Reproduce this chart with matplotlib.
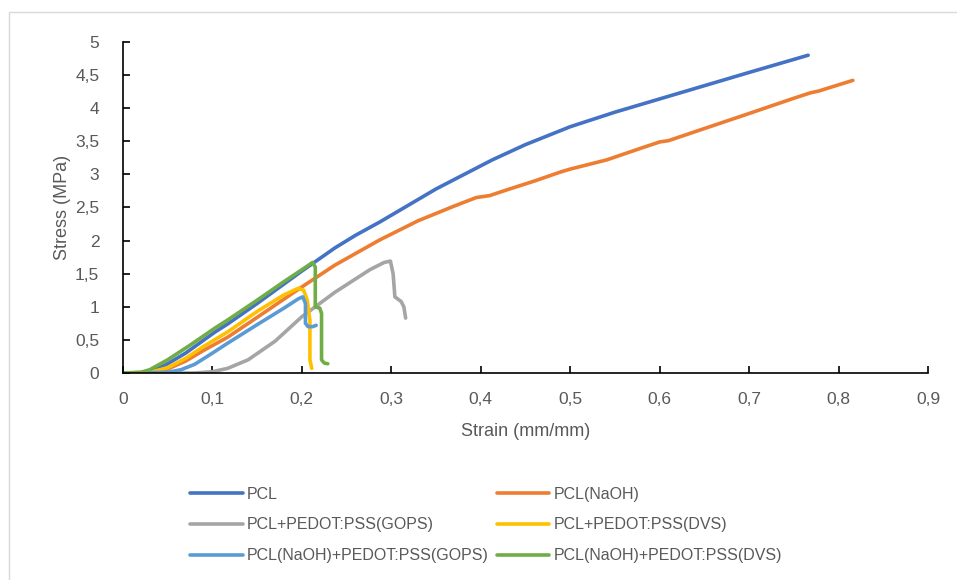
import matplotlib.pyplot as plt
from matplotlib.patches import Rectangle
from matplotlib.ticker import FuncFormatter

plt.rcParams['font.family'] = ['Liberation Sans', 'DejaVu Sans']

labels = ["PCL", "PCL(NaOH)", "PCL+PEDOT:PSS(GOPS)", "PCL+PEDOT:PSS(DVS)",
          "PCL(NaOH)+PEDOT:PSS(GOPS)", "PCL(NaOH)+PEDOT:PSS(DVS)"]
colors = ["#4472C4", "#ED7D31", "#A5A5A5", "#FFC000", "#5B9BD5", "#70AD47"]

# strain (mm/mm) / stress (MPa)
pcl_x = [0, 0.02, 0.035, 0.05, 0.07, 0.103, 0.117, 0.15, 0.2, 0.237, 0.26, 0.287, 0.35,
         0.413, 0.45, 0.5, 0.55, 0.6, 0.645, 0.7, 0.766]
pcl_y = [0, 0.0, 0.04, 0.14, 0.3, 0.62, 0.74, 1.05, 1.54, 1.89, 2.08, 2.28, 2.78,
         3.22, 3.45, 3.72, 3.94, 4.14, 4.32, 4.54, 4.80]

naoh_x = [0, 0.03, 0.05, 0.07, 0.09, 0.117, 0.15, 0.2, 0.237, 0.287, 0.33, 0.37,
          0.395, 0.41, 0.43, 0.46, 0.49, 0.5, 0.541, 0.58, 0.6, 0.61, 0.645, 0.7,
          0.75, 0.768, 0.778, 0.816]
naoh_y = [0, 0.01, 0.06, 0.18, 0.34, 0.54, 0.84, 1.3, 1.63, 2.01, 2.3, 2.52,
          2.65, 2.68, 2.77, 2.9, 3.04, 3.08, 3.22, 3.4, 3.49, 3.51, 3.67, 3.92,
          4.15, 4.23, 4.26, 4.42]

gops_x = [0, 0.05, 0.08, 0.1, 0.117, 0.14, 0.17, 0.2, 0.237, 0.276, 0.292, 0.299,
          0.302, 0.304, 0.311, 0.314, 0.316]
gops_y = [0, 0.0, 0.0, 0.02, 0.07, 0.2, 0.48, 0.85, 1.22, 1.56, 1.67, 1.69,
          1.5, 1.15, 1.08, 1.0, 0.83]

dvs_x = [0, 0.03, 0.05, 0.07, 0.09, 0.117, 0.15, 0.18, 0.196, 0.202, 0.206, 0.209,
         0.209, 0.211]
dvs_y = [0, 0.01, 0.08, 0.22, 0.4, 0.62, 0.93, 1.18, 1.28, 1.25, 1.1, 0.8,
         0.2, 0.07]

naoh_gops_x = [0, 0.05, 0.065, 0.08, 0.1, 0.117, 0.15, 0.18, 0.196, 0.201, 0.204,
               0.204, 0.207, 0.212, 0.216]
naoh_gops_y = [0, 0.01, 0.05, 0.13, 0.3, 0.45, 0.73, 0.98, 1.12, 1.15, 1.05,
               0.75, 0.70, 0.70, 0.72]

naoh_dvs_x = [0, 0.02, 0.03, 0.05, 0.075, 0.103, 0.117, 0.15, 0.18, 0.2, 0.212,
              0.215, 0.215, 0.22, 0.222, 0.222, 0.225, 0.229]
naoh_dvs_y = [0, 0.01, 0.05, 0.2, 0.42, 0.68, 0.80, 1.1, 1.38, 1.56, 1.67,
              1.6, 1.0, 0.98, 0.9, 0.2, 0.15, 0.14]

series = [(pcl_x, pcl_y), (naoh_x, naoh_y), (gops_x, gops_y), (dvs_x, dvs_y),
          (naoh_gops_x, naoh_gops_y), (naoh_dvs_x, naoh_dvs_y)]

fig = plt.figure(figsize=(9.57, 5.80), dpi=100)
fig.patches.append(Rectangle((9 / 957, -0.1), 1.2, 1.1 - 12 / 580, transform=fig.transFigure,
                             fill=False, edgecolor='#D9D9D9', linewidth=1))
ax = fig.add_axes([0.1285, 0.3569, 0.8412, 0.5707])

lines = []
for (x, y), lab, c in zip(series, labels, colors):
    ln, = ax.plot(x, y, color=c, lw=2.6, label=lab, solid_capstyle='round',
                  solid_joinstyle='round')
    lines.append(ln)

ax.set_xlim(0, 0.9)
ax.set_ylim(0, 5)
ax.set_xticks([i / 10 for i in range(10)])
ax.set_yticks([i / 2 for i in range(11)])
comma = FuncFormatter(lambda v, p: ('%g' % round(v, 2)).replace('.', ','))
ax.xaxis.set_major_formatter(comma)
ax.yaxis.set_major_formatter(comma)
ax.tick_params(direction='in', length=5, width=1.2, colors='black', labelcolor='#595959',
               labelsize=12.5)
ax.tick_params(axis='x', pad=14)
ax.tick_params(axis='y', pad=17)
for s in ['top', 'right']:
    ax.spines[s].set_visible(False)
for s in ['left', 'bottom']:
    ax.spines[s].set_linewidth(1.2)
ax.set_xlabel('Strain (mm/mm)', fontsize=13, color='#595959', labelpad=11)
ax.set_ylabel('Stress (MPa)', fontsize=13, color='#595959', labelpad=3)

# row-major legend order (matplotlib fills columns first)
order = [0, 2, 4, 1, 3, 5]
fig.legend([lines[i] for i in order], [labels[i] for i in order],
           loc='upper left', bbox_to_anchor=(190 / 957, 0.1612), ncol=2, frameon=False,
           fontsize=11.5, labelcolor='#595959', handlelength=3.3, handletextpad=0.25,
           columnspacing=0.5, labelspacing=1.0, borderpad=0, borderaxespad=0)

plt.savefig('out.png', dpi=100)
